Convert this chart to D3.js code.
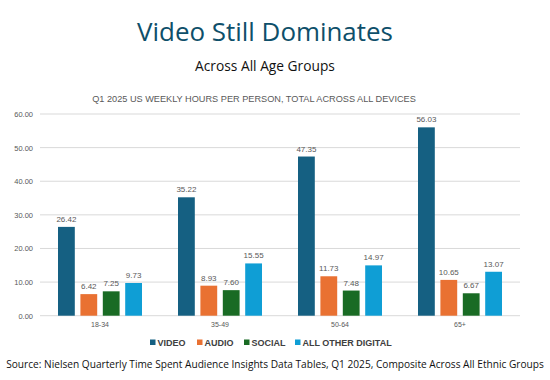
<!DOCTYPE html>
<html><head><meta charset="utf-8">
<script src="https://cdn.jsdelivr.net/npm/d3@7"></script>
<style>body{margin:0;background:#fff}svg{display:block}</style>
</head><body><svg id="c" width="550" height="380"></svg>
<script>
const categories = ["18-34","35-49","50-64","65+"];
const seriesNames = ["VIDEO","AUDIO","SOCIAL","ALL OTHER DIGITAL"];
const video = [26.42,35.22,47.35,56.03];
const audio = [6.42,8.93,11.73,10.65];
const social = [7.25,7.60,7.48,6.67];
const otherDigital = [9.73,15.55,14.97,13.07];
const yTicks = [0,10,20,30,40,50,60];
const colors = ["#156082","#E97132","#196B24","#0F9ED5"];
const seriesValues = [video,audio,social,otherDigital];

const svg = d3.select("#c");
const font = "Liberation Sans, Arial, sans-serif";
const titleFont = "'Open Sans', Lato, sans-serif";

function fit(sel, target, size){
  sel.attr("font-size", size);
  const w = sel.node().getComputedTextLength();
  sel.attr("font-size", size*target/w);
  return sel;
}

fit(svg.append("text").attr("x",265).attr("y",41).attr("text-anchor","middle")
  .attr("font-family",titleFont).attr("fill","#0E4F6A").text("Video Still Dominates"),256,30);
fit(svg.append("text").attr("x",265).attr("y",71).attr("text-anchor","middle")
  .attr("font-family",titleFont).attr("fill","#111").text("Across All Age Groups"),140,15);
fit(svg.append("text").attr("x",254).attr("y",102).attr("text-anchor","middle")
  .attr("font-family",font).attr("fill","#595959").text("Q1 2025 US WEEKLY HOURS PER PERSON, TOTAL ACROSS ALL DEVICES"),324,10);

const y = d3.scaleLinear().domain([0,60]).range([315.7,114]);
const x0 = d3.scaleBand().domain(categories).range([40,520]).paddingInner(0.3).paddingOuter(0.15);
const x1 = d3.scaleBand().domain(seriesNames).range([0,x0.bandwidth()]).paddingInner(0.25);

const g = svg.append("g");
g.selectAll("line.grid").data(yTicks).join("line")
  .attr("x1",40).attr("x2",520).attr("y1",d=>y(d)).attr("y2",d=>y(d))
  .attr("stroke","#d9d9d9").attr("stroke-width",1);
const yAxis = d3.axisLeft(y).tickValues(yTicks).tickFormat(d3.format(".2f")).tickSize(0).tickPadding(7);
const ya = svg.append("g").attr("transform","translate(40,0)").call(yAxis);
ya.select(".domain").remove();
ya.selectAll("text").attr("font-family",font).attr("font-size",7.5).attr("fill","#595959");

const xAxis = d3.axisBottom(x0).tickSize(0).tickPadding(6);
const xa = svg.append("g").attr("transform","translate(0,315.7)").call(xAxis);
xa.select(".domain").remove();
xa.selectAll("text").attr("font-family",font).attr("font-size",7).attr("fill","#595959");

categories.forEach((c,ci)=>{
  const gg = svg.append("g").attr("transform",`translate(${x0(c)},0)`);
  seriesNames.forEach((s,si)=>{
    const v = seriesValues[si][ci];
    gg.append("rect").attr("x",x1(s)).attr("y",y(v)).attr("width",x1.bandwidth())
      .attr("height",y(0)-y(v)).attr("fill",colors[si]);
    gg.append("text").attr("x",x1(s)+x1.bandwidth()/2).attr("y",y(v)-5)
      .attr("text-anchor","middle").attr("font-family",font).attr("font-size",8)
      .attr("fill","#595959").text(d3.format(".2f")(v));
  });
});

const legendX = [150,197,244,295];
const lg = svg.append("g");
seriesNames.forEach((s,i)=>{
  lg.append("rect").attr("x",legendX[i]).attr("y",339.5).attr("width",5.5).attr("height",5.5).attr("fill",colors[i]);
  lg.append("text").attr("x",legendX[i]+7.5).attr("y",345.5).attr("font-family",font).attr("font-size",9)
    .attr("font-weight","bold").attr("fill","#404040").text(s);
});

fit(svg.append("text").attr("x",275).attr("y",368).attr("text-anchor","middle")
  .attr("font-family",titleFont).attr("fill","#111")
  .text("Source: Nielsen Quarterly Time Spent Audience Insights Data Tables, Q1 2025, Composite Across All Ethnic Groups"),538,11);
</script></body></html>
